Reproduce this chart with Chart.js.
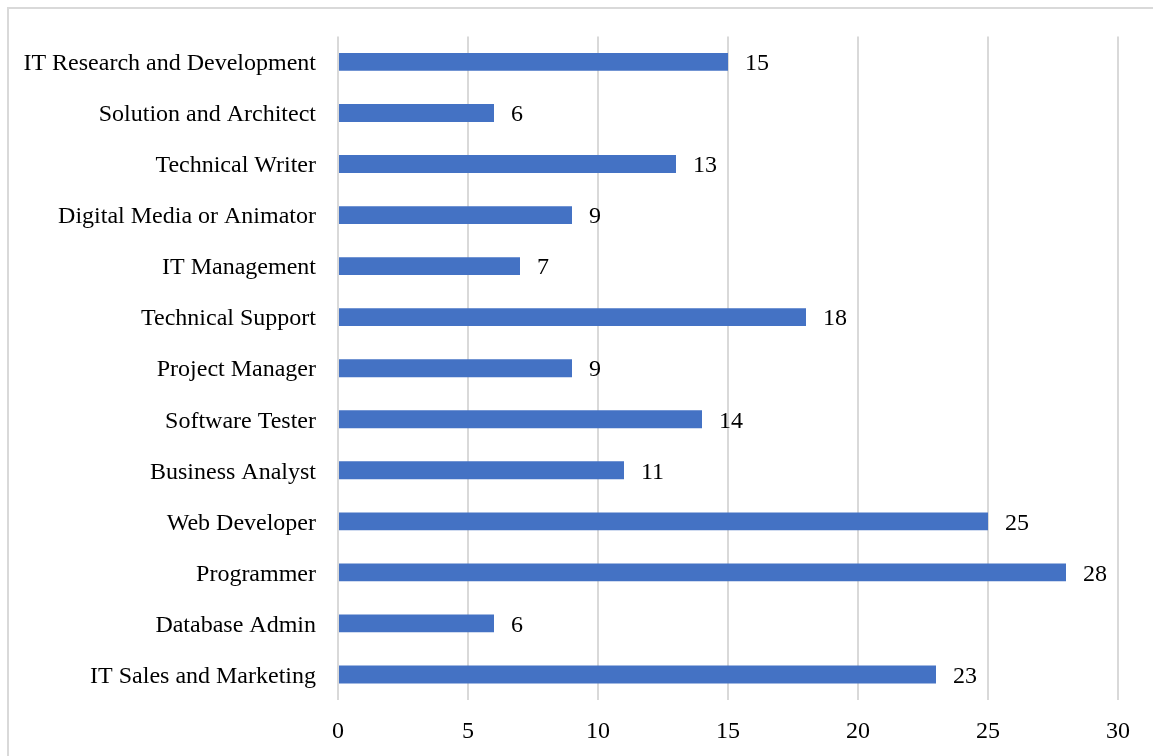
<!DOCTYPE html>
<html>
<head>
<meta charset="utf-8">
<script src="https://cdn.jsdelivr.net/npm/chart.js@4/dist/chart.umd.min.js"></script>
<style>
  html, body { margin: 0; padding: 0; background: #ffffff; }
  #wrap { position: relative; width: 1153px; height: 756px; }
</style>
</head>
<body>
<div id="wrap"><canvas id="c" width="1153" height="756"></canvas></div>
<script>
const categories = [
  "IT Research and Development",
  "Solution and Architect",
  "Technical Writer",
  "Digital Media or Animator",
  "IT Management",
  "Technical Support",
  "Project Manager",
  "Software Tester",
  "Business Analyst",
  "Web Developer",
  "Programmer",
  "Database Admin",
  "IT Sales and Marketing"
];
const counts = [15, 6, 13, 9, 7, 18, 9, 14, 11, 25, 28, 6, 23];
const xTicks = [0, 5, 10, 15, 20, 25, 30];

const FONT = "'Liberation Serif', 'Times New Roman', serif";

const frame = {
  id: 'frame',
  beforeDraw(chart) {
    const ctx = chart.ctx;
    ctx.save();
    ctx.strokeStyle = '#d9d9d9';
    ctx.lineWidth = 2;
    ctx.strokeRect(8, 8, 1300, 900);
    ctx.restore();
  }
};

const valueLabels = {
  id: 'valueLabels',
  afterDatasetsDraw(chart) {
    const ctx = chart.ctx;
    const meta = chart.getDatasetMeta(0);
    ctx.save();
    ctx.font = '24px ' + FONT;
    ctx.fillStyle = '#000000';
    ctx.textAlign = 'left';
    ctx.textBaseline = 'middle';
    meta.data.forEach((bar, i) => {
      ctx.fillText(String(counts[i]), bar.x + 17, bar.y + 2);
    });
    ctx.restore();
  }
};

new Chart(document.getElementById('c'), {
  type: 'bar',
  data: {
    labels: categories,
    datasets: [{
      data: counts,
      backgroundColor: '#4472C4',
      borderWidth: 0,
      barPercentage: 0.35,
      categoryPercentage: 1.0
    }]
  },
  options: {
    indexAxis: 'y',
    responsive: false,
    animation: false,
    devicePixelRatio: 1,
    layout: { padding: { top: 36, right: 35, left: 0, bottom: 0 } },
    plugins: {
      legend: { display: false },
      tooltip: { enabled: false }
    },
    scales: {
      x: {
        min: 0,
        max: 30,
        afterBuildTicks(scale) { scale.ticks = xTicks.map(v => ({ value: v })); },
        afterFit(scale) { scale.height = 56; },
        ticks: {
          font: { family: FONT, size: 24 },
          color: '#000000',
          padding: 17
        },
        grid: {
          color: '#d9d9d9',
          lineWidth: 2,
          drawTicks: false
        },
        border: { display: false }
      },
      y: {
        afterFit(scale) { scale.width = 338; },
        ticks: {
          font: { family: FONT, size: 24 },
          color: '#000000',
          padding: 22,
          labelOffset: 2
        },
        grid: { display: false, drawTicks: false },
        border: { display: false }
      }
    }
  },
  plugins: [frame, valueLabels]
});
</script>
</body>
</html>
